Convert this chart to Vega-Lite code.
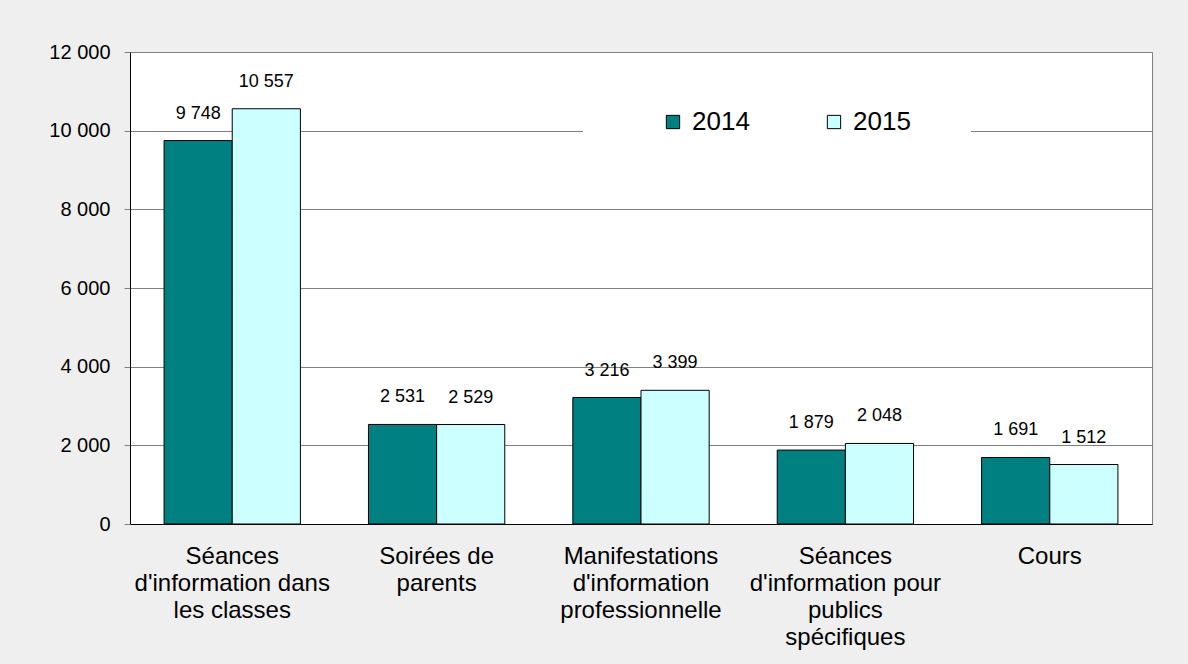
{
  "$schema": "https://vega.github.io/schema/vega-lite/v6.json",
  "width": 1022,
  "height": 472,
  "autosize": {"type": "none"},
  "padding": {"left": 130, "top": 52, "right": 36, "bottom": 140},
  "background": "#efefef",
  "config": {
    "locale": {"number": {"decimal": ",", "thousands": " ", "grouping": [3], "currency": ["", " €"]}},
    "view": {"fill": "white", "stroke": "#808080", "strokeWidth": 1},
    "font": "Liberation Sans"
  },
  "data": {
    "values": [
      {"category": "Séances d'information dans les classes", "year": "2014", "value": 9748},
      {"category": "Séances d'information dans les classes", "year": "2015", "value": 10557},
      {"category": "Soirées de parents", "year": "2014", "value": 2531},
      {"category": "Soirées de parents", "year": "2015", "value": 2529},
      {"category": "Manifestations d'information professionnelle", "year": "2014", "value": 3216},
      {"category": "Manifestations d'information professionnelle", "year": "2015", "value": 3399},
      {"category": "Séances d'information pour publics spécifiques", "year": "2014", "value": 1879},
      {"category": "Séances d'information pour publics spécifiques", "year": "2015", "value": 2048},
      {"category": "Cours", "year": "2014", "value": 1691},
      {"category": "Cours", "year": "2015", "value": 1512}
    ]
  },
  "encoding": {
    "x": {
      "field": "category",
      "type": "nominal",
      "sort": null,
      "scale": {"paddingInner": 0.333, "paddingOuter": 0.1667},
      "axis": {
        "title": null,
        "ticks": false,
        "tickSize": 0,
        "labelPadding": 20,
        "labelFontSize": 24,
        "labelColor": "black",
        "labelLineHeight": 27,
        "labelBaseline": "top",
        "labelAngle": 0,
        "labelLimit": 400,
        "labelOverlap": false,
        "domainColor": "black",
        "labelExpr": "indexof(datum.value,'dans')>=0 ? ['Séances', \"d'information dans\", 'les classes'] : indexof(datum.value,'Soirées')>=0 ? ['Soirées de', 'parents'] : indexof(datum.value,'Manifestations')>=0 ? ['Manifestations', \"d'information\", 'professionnelle'] : indexof(datum.value,'publics')>=0 ? ['Séances', \"d'information pour\", 'publics', 'spécifiques'] : datum.label"
      }
    },
    "xOffset": {"field": "year", "type": "nominal", "sort": ["2014", "2015"]},
    "y": {
      "field": "value",
      "type": "quantitative",
      "scale": {"domain": [0, 12000]},
      "axis": {
        "title": null,
        "values": [0, 2000, 4000, 6000, 8000, 10000, 12000],
        "format": ",d",
        "tickColor": "#808080",
        "tickSize": 6,
        "labelPadding": 14,
        "labelFontSize": 20,
        "labelColor": "black",
        "domainColor": "black",
        "grid": true,
        "gridColor": "#808080"
      }
    }
  },
  "layer": [
    {
      "mark": {"type": "bar", "stroke": "black", "strokeWidth": 1},
      "encoding": {
        "color": {
          "field": "year",
          "type": "nominal",
          "scale": {"domain": ["2014", "2015"], "range": ["#008080", "#ccffff"]},
          "legend": {
            "title": " ",
            "titleOrient": "right",
            "titlePadding": 30,
            "titleFontSize": 10,
            "orient": "none",
            "legendX": 453,
            "legendY": 27,
            "direction": "horizontal",
            "columns": 2,
            "columnPadding": 24,
            "fillColor": "white",
            "padding": 30,
            "symbolType": "square",
            "symbolSize": 177,
            "symbolStrokeColor": "black",
            "symbolStrokeWidth": 1,
            "labelFontSize": 26,
            "labelColor": "black",
            "labelOffset": 6,
            "symbolOffset": 47
          }
        }
      }
    },
    {
      "mark": {"type": "text", "dy": -22, "baseline": "alphabetic", "font": "Liberation Sans", "fontSize": 18, "color": "black"},
      "encoding": {
        "text": {"field": "value", "type": "quantitative", "format": ",d"}
      }
    }
  ]
}
